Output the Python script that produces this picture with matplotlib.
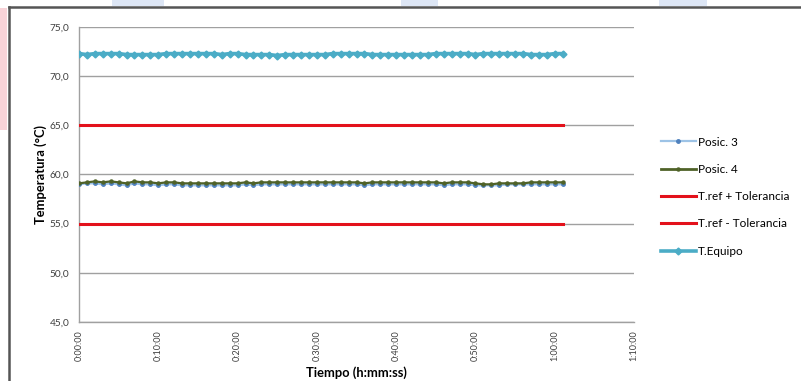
import numpy as np
import matplotlib.pyplot as plt
from matplotlib.ticker import FuncFormatter, MultipleLocator
from matplotlib.lines import Line2D
from matplotlib.patches import Rectangle

plt.rcParams['font.family'] = ['Lato', 'DejaVu Sans']

# minutes from start
minutos = np.arange(0, 62)

t_equipo = [72.3, 72.2, 72.3, 72.3, 72.3, 72.3, 72.2, 72.2, 72.2, 72.2,
            72.2, 72.3, 72.3, 72.3, 72.3, 72.3, 72.3, 72.3, 72.2, 72.3,
            72.3, 72.2, 72.2, 72.2, 72.2, 72.1, 72.2, 72.2, 72.2, 72.2,
            72.2, 72.2, 72.3, 72.3, 72.3, 72.3, 72.3, 72.2, 72.2, 72.2,
            72.2, 72.2, 72.2, 72.2, 72.2, 72.3, 72.3, 72.3, 72.3, 72.3,
            72.2, 72.3, 72.3, 72.3, 72.3, 72.3, 72.3, 72.2, 72.2, 72.2,
            72.3, 72.3]

posic3 = [59.0, 59.1, 59.1, 59.0, 59.1, 59.0, 58.9, 59.1, 59.0, 59.0,
          58.9, 59.0, 59.0, 58.9, 58.9, 58.9, 58.9, 58.9, 58.9, 58.9,
          58.9, 59.0, 58.9, 59.0, 59.0, 59.0, 59.0, 59.0, 59.0, 59.0,
          59.0, 59.0, 59.0, 59.0, 59.0, 59.0, 58.9, 59.0, 59.0, 59.0,
          59.0, 59.0, 59.0, 59.0, 59.0, 59.0, 58.9, 59.0, 59.0, 59.0,
          58.9, 58.9, 58.9, 58.9, 59.0, 59.0, 59.0, 59.0, 59.0, 59.0,
          59.0, 59.0]

posic4 = [59.1, 59.2, 59.3, 59.2, 59.3, 59.2, 59.1, 59.3, 59.2, 59.2,
          59.1, 59.2, 59.2, 59.1, 59.1, 59.1, 59.1, 59.1, 59.1, 59.1,
          59.1, 59.2, 59.1, 59.2, 59.2, 59.2, 59.2, 59.2, 59.2, 59.2,
          59.2, 59.2, 59.2, 59.2, 59.2, 59.2, 59.1, 59.2, 59.2, 59.2,
          59.2, 59.2, 59.2, 59.2, 59.2, 59.2, 59.1, 59.2, 59.2, 59.2,
          59.1, 59.0, 59.0, 59.1, 59.1, 59.1, 59.1, 59.2, 59.2, 59.2,
          59.2, 59.2]

t_ref = 60.0
tolerancia = 5.0

c_p3_line = '#9dc3e6'
c_p3_mark = '#4f81bd'
c_p4 = '#4f6228'
c_red = '#e3111b'
c_equipo = '#4bacc6'

fig = plt.figure(figsize=(8.01, 3.81), dpi=100)
ax = fig.add_axes([0.0986, 0.155, 0.693, 0.774])

ax.plot(minutos, posic3, color=c_p3_line, lw=1.6, marker='o', ms=2.5,
        mfc=c_p3_mark, mec=c_p3_mark, zorder=3)
ax.plot(minutos, posic4, color=c_p4, lw=1.6, marker='o', ms=2.2,
        mfc=c_p4, mec=c_p4, zorder=4)
ax.plot(minutos, [t_ref + tolerancia] * len(minutos), color=c_red, lw=2.2, zorder=3)
ax.plot(minutos, [t_ref - tolerancia] * len(minutos), color=c_red, lw=2.2, zorder=3)
ax.plot(minutos, t_equipo, color=c_equipo, lw=2.6, marker='D', ms=3.5,
        mfc=c_equipo, mec=c_equipo, zorder=5)

ax.set_xlim(0, 70)
ax.set_ylim(45, 75)
ax.xaxis.set_major_locator(MultipleLocator(10))
ax.yaxis.set_major_locator(MultipleLocator(5))


def fmt_tiempo(v, pos):
    m = int(round(v))
    return '%d:%02d:00' % (m // 60, m % 60)


ax.xaxis.set_major_formatter(FuncFormatter(fmt_tiempo))
ax.yaxis.set_major_formatter(FuncFormatter(lambda v, p: ('%.1f' % v).replace('.', ',')))
ax.tick_params(axis='both', length=0, colors='#404040')
ax.tick_params(axis='x', labelrotation=90, labelsize=6.5, pad=6)
ax.tick_params(axis='y', labelsize=7.3, pad=7)

ax.grid(axis='y', color='#a0a0a0', lw=1.0)
ax.set_axisbelow(True)
for s in ['top', 'right']:
    ax.spines[s].set_visible(False)
for s in ['left', 'bottom']:
    ax.spines[s].set_color('#a0a0a0')
    ax.spines[s].set_linewidth(1.0)

ax.set_ylabel('Temperatura (°C)', fontsize=9.3, fontweight='bold', labelpad=2)
ax.set_xlabel('Tiempo (h:mm:ss)', fontsize=9.3, fontweight='bold', labelpad=4)

handles = [
    Line2D([], [], color=c_p3_line, lw=1.6, marker='o', ms=2.5, mfc=c_p3_mark, mec=c_p3_mark),
    Line2D([], [], color=c_p4, lw=2.0, marker='o', ms=2.2, mfc=c_p4, mec=c_p4),
    Line2D([], [], color=c_red, lw=2.2),
    Line2D([], [], color=c_red, lw=2.2),
    Line2D([], [], color=c_equipo, lw=2.6, marker='D', ms=3.5, mfc=c_equipo, mec=c_equipo),
]
labels = ['Posic. 3', 'Posic. 4', 'T.ref + Tolerancia', 'T.ref - Tolerancia', 'T.Equipo']
fig.legend(handles, labels, loc='upper left', bbox_to_anchor=(0.819, 0.654),
           frameon=False, fontsize=8.5, handlelength=3.0, handletextpad=0.15,
           labelspacing=1.38, numpoints=1, borderaxespad=0)

# chart frame (left and top edges) and faint background strip
fig.add_artist(Line2D([0.011, 0.011], [0.0, 0.981], color='#555555', lw=1.8))
fig.add_artist(Line2D([0.011, 1.0], [0.981, 0.981], color='#555555', lw=1.8))
for x0, w in [(0.14, 0.065), (0.50, 0.047), (0.823, 0.06)]:
    fig.add_artist(Rectangle((x0, 0.985), w, 0.015, color='#dde6f5', lw=0))
fig.add_artist(Rectangle((0.0, 0.66), 0.009, 0.32, color='#f8d3d8', lw=0))

fig.savefig('out.png', dpi=100, facecolor='white')
